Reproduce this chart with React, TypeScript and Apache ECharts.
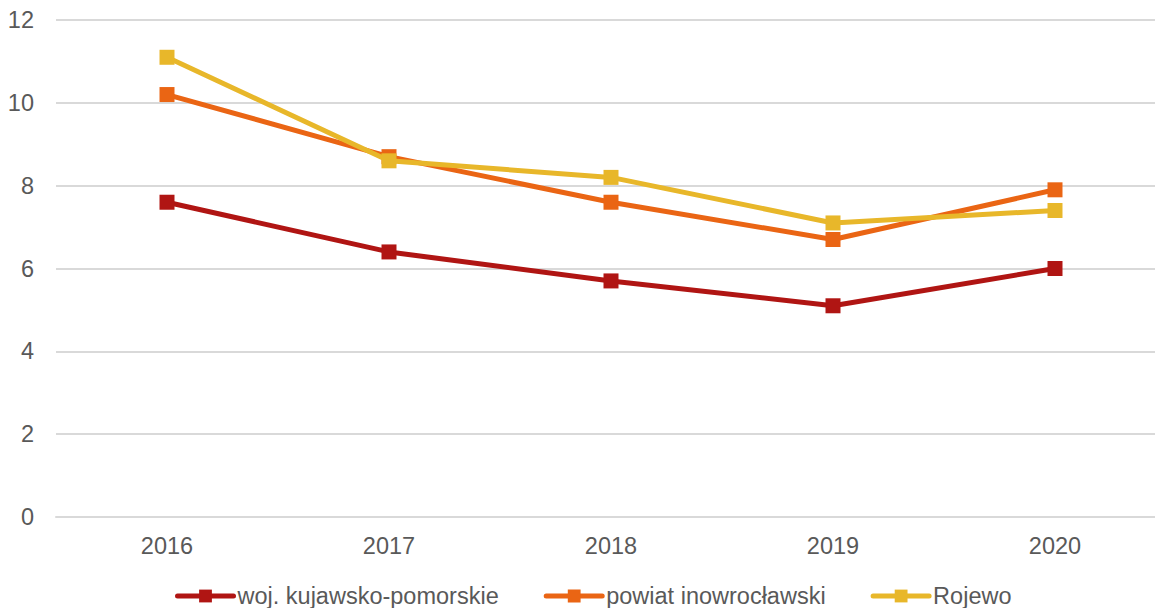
import React, { useEffect, useRef } from "react";
import * as echarts from "echarts";

const years = ["2016", "2017", "2018", "2019", "2020"];
const wojValues = [7.6, 6.4, 5.7, 5.1, 6.0];
const powiatValues = [10.2, 8.7, 7.6, 6.7, 7.9];
const rojewoValues = [11.1, 8.6, 8.2, 7.1, 7.4];
const seriesNames = ["woj. kujawsko-pomorskie", "powiat inowrocławski", "Rojewo"];
const colors = ["#B01513", "#EA6514", "#E8B72A"];

const FONT = "'Liberation Sans', Arial, sans-serif";

export default function App() {
  const ref = useRef<HTMLDivElement>(null);
  useEffect(() => {
    if (!ref.current) return;
    const chart = echarts.init(ref.current, null, { renderer: "svg" });
    const data = [wojValues, powiatValues, rojewoValues];
    chart.setOption({
      animation: false,
      backgroundColor: "#ffffff",
      textStyle: { fontFamily: FONT },
      grid: { left: 56, top: 20, width: 1110, height: 497, containLabel: false, outerBoundsMode: "none" },
      legend: {
        left: 175,
        top: 584,
        padding: 0,
        itemWidth: 56,
        itemHeight: 16,
        itemGap: 45,
        lineStyle: { width: 5, cap: "round" },
        textStyle: { fontFamily: FONT, fontSize: 23.5, color: "#595959", padding: [0, 0, 0, -1] },
        data: seriesNames,
      },
      xAxis: {
        type: "category",
        data: years,
        boundaryGap: true,
        axisLine: { show: true, lineStyle: { color: "#d9d9d9", width: 2 } },
        axisTick: { show: false },
        axisLabel: { fontFamily: FONT, fontSize: 23.5, color: "#595959", margin: 17 },
      },
      yAxis: {
        type: "value",
        min: 0,
        max: 12,
        interval: 2,
        axisLine: { show: false },
        axisTick: { show: false },
        splitLine: { lineStyle: { color: "#d9d9d9", width: 2 } },
        axisLabel: { fontFamily: FONT, fontSize: 23.5, color: "#595959", margin: 22 },
      },
      series: seriesNames.map((name, i) => ({
        name,
        type: "line",
        data: data[i],
        color: colors[i],
        symbol: "rect",
        symbolSize: 15,
        lineStyle: { width: 5, color: colors[i] },
        itemStyle: { color: colors[i] },
        z: 2 + i,
      })),
    });
    return () => chart.dispose();
  }, []);
  return (
    <div style={{ position: "fixed", left: 0, top: 0, width: 1155, height: 608, overflow: "hidden", background: "#fff" }}>
      <div ref={ref} style={{ position: "absolute", left: 0, top: 0, width: 1170, height: 608 }} />
    </div>
  );
}
